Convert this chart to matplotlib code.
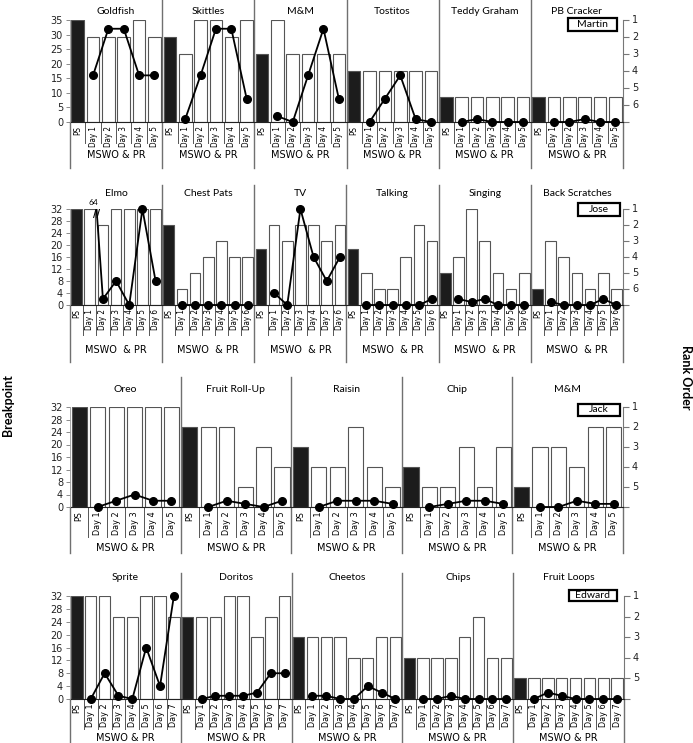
import matplotlib
matplotlib.use("Agg")
import matplotlib.pyplot as plt
import matplotlib.transforms as mtransforms
from matplotlib.patches import Rectangle
import numpy as np

W, H = 693, 743

# ---- data: rank (bars, PS first then days) and breakpoint (dots, days only)
martin_items = ["Goldfish", "Skittles", "M&M", "Tostitos", "Teddy Graham", "PB Cracker"]
martin_rank = [[1, 2, 2, 2, 1, 2],
               [2, 3, 1, 1, 2, 1],
               [3, 1, 3, 3, 3, 3],
               [4, 4, 4, 4, 4, 4],
               [5.5, 5.5, 5.5, 5.5, 5.5, 5.5],
               [5.5, 5.5, 5.5, 5.5, 5.5, 5.5]]
martin_bp = [[16, 32, 32, 16, 16],
             [1, 16, 32, 32, 8],
             [2, 0, 16, 32, 8],
             [0, 8, 16, 1, 0],
             [0, 1, 0, 0, 0],
             [0, 0, 1, 0, 0]]

jose_items = ["Elmo", "Chest Pats", "TV", "Talking", "Singing", "Back Scratches"]
jose_rank = [[1, 1, 2, 1, 1, 1, 1],
             [2, 6, 5, 4, 3, 4, 4],
             [3.5, 2, 3, 2, 2, 3, 2],
             [3.5, 5, 6, 6, 4, 2, 3],
             [5, 4, 1, 3, 5, 6, 5],
             [6, 3, 4, 5, 6, 5, 6]]
jose_bp = [[64, 2, 8, 0, 32, 8],
           [0, 0, 0, 0, 0, 0],
           [4, 0, 32, 16, 8, 16],
           [0, 0, 0, 0, 0, 2],
           [2, 1, 2, 0, 0, 0],
           [1, 0, 0, 0, 2, 0]]

jack_items = ["Oreo", "Fruit Roll-Up", "Raisin", "Chip", "M&M"]
jack_rank = [[1, 1, 1, 1, 1, 1],
             [2, 2, 2, 5, 3, 4],
             [3, 4, 4, 2, 4, 5],
             [4, 5, 5, 3, 5, 3],
             [5, 3, 3, 4, 2, 2]]
jack_bp = [[0, 2, 4, 2, 2],
           [0, 2, 1, 0, 2],
           [0, 2, 2, 2, 1],
           [0, 1, 2, 2, 1],
           [0, 0, 2, 1, 1]]

edward_items = ["Sprite", "Doritos", "Cheetos", "Chips", "Fruit Loops"]
edward_rank = [[1, 1, 1, 2, 2, 1, 1, 2],
               [2, 2, 2, 1, 1, 3, 2, 1],
               [3, 3, 3, 3, 4, 4, 3, 3],
               [4, 4, 4, 4, 3, 2, 4, 4],
               [5, 5, 5, 5, 5, 5, 5, 5]]
edward_bp = [[0, 8, 1, 0, 16, 4, 32],
             [0, 1, 1, 1, 2, 8, 8],
             [1, 1, 0, 0, 4, 2, 0],
             [0, 0, 1, 0, 0, 0, 0],
             [0, 2, 1, 0, 0, 0, 0]]

# layout of each row in pixels
rows = [
    dict(name="Martin", items=martin_items, rank=martin_rank, bp=martin_bp, top=35, step=5, rbot=7,
         x0=70, x1=623, ytop=20, ybot=122, sep_top=0, sep_bot=168, tick_bot=143, title_y=12,
         group_y=155, group="MSWO & PR", box=(568, 18, 49, 13), tfs=5.8),
    dict(name="Jose", items=jose_items, rank=jose_rank, bp=jose_bp, top=32, step=4, rbot=7,
         x0=70, x1=623, ytop=209, ybot=305, sep_top=185, sep_bot=362, tick_bot=335, title_y=193,
         group_y=350, group="MSWO  & PR", box=(578, 203, 42, 13), tfs=5.8),
    dict(name="Jack", items=jack_items, rank=jack_rank, bp=jack_bp, top=32, step=4, rbot=6,
         x0=70, x1=623, ytop=407, ybot=507, sep_top=377, sep_bot=553, tick_bot=537, title_y=389,
         group_y=548, group="MSWO & PR", box=(578, 404, 42, 12), tfs=6.5),
    dict(name="Edward", items=edward_items, rank=edward_rank, bp=edward_bp, top=32, step=4, rbot=6,
         x0=70, x1=624, ytop=596, ybot=699, sep_top=573, sep_bot=743, tick_bot=729, title_y=577,
         group_y=738, group="MSWO & PR", box=(569, 590, 48, 11), tfs=6.5),
]

TITLE = ["Lato", "DejaVu Sans"]
SEP = "#707070"

fig = plt.figure(figsize=(W / 100, H / 100), dpi=100)


def draw_row(r):
    items, ranks, bps = r["items"], r["rank"], r["bp"]
    per = len(ranks[0])
    n = per * len(items)
    hpx = r["ybot"] - r["ytop"]
    ax = fig.add_axes([r["x0"] / W, 1 - r["ybot"] / H, (r["x1"] - r["x0"]) / W, hpx / H])
    ax2 = ax.twinx()
    ax.set_xlim(-0.5, n - 0.5)
    ax.set_ylim(r["rbot"], 1)
    ax2.set_ylim(0, r["top"])

    def fy(ypix):
        return (r["ybot"] - ypix) / hpx

    # bars (rank order)
    xs, hs, cols = [], [], []
    for p, rk in enumerate(ranks):
        for k, v in enumerate(rk):
            xs.append(p * per + k)
            hs.append(v - r["rbot"])
            cols.append("#1c1c1c" if k == 0 else "white")
    ax.bar(xs, hs, bottom=r["rbot"], width=0.82, color=cols, edgecolor="#555555", linewidth=0.8, zorder=2)

    # breakpoint lines
    clip = Rectangle((0, -0.3), 1, 1.3, transform=ax2.transAxes)
    for p, bp in enumerate(bps):
        x = p * per + 1 + np.arange(len(bp))
        y = np.array(bp, dtype=float)
        ln, = ax2.plot(x, y, color="black", lw=1.3, zorder=3)
        ln.set_clip_path(clip)
        ok = y <= r["top"]
        ax2.plot(x[ok], y[ok], "o", color="black", ms=5.5, clip_on=False, zorder=4)
        for xi, yi, yprev in zip(x[~ok], y[~ok], np.roll(y, -1)[~ok]):
            xc = xi + (yi - r["top"]) / (yi - yprev)
            ax2.text(xc - 0.02, r["top"] - 1.6, "//", fontsize=7, ha="center", va="center",
                     fontweight="bold", zorder=5)
            ax2.text(xc - 0.25, r["top"], "%d" % yi, fontsize=6, ha="center", va="bottom",
                     transform=ax2.transData + mtransforms.ScaledTranslation(0, 3 / 100, fig.dpi_scale_trans),
                     family=TITLE)

    # axes styling
    for s in ["top", "left"]:
        ax.spines[s].set_visible(False)
    for s in ["top", "right", "bottom"]:
        ax2.spines[s].set_visible(False)
    ax.spines["right"].set_color("#777777")
    ax.spines["bottom"].set_color("#222222")
    ax2.spines["left"].set_color("#999999")
    ax2.spines["left"].set_linewidth(0.6)

    # right (rank) axis: ticks plus labels placed next to them
    ax.yaxis.tick_right()
    rt = list(range(1, r["rbot"] + 1))
    ax.set_yticks(rt)
    ax.set_yticklabels([])
    ax.tick_params(axis="y", direction="out", length=4, width=0.8, color="#777777")
    rtr = mtransforms.blended_transform_factory(ax.transAxes, ax.transData)
    for t in rt[:-1]:
        ax.text(1.0, t, str(t), transform=rtr + mtransforms.ScaledTranslation(12 / 100, 0, fig.dpi_scale_trans),
                ha="center", va="center", fontsize=7, color="#222222", clip_on=False)

    ax2.yaxis.tick_left()
    ax2.set_yticks(np.arange(0, r["top"] + 1, r["step"]))
    ax2.tick_params(axis="y", direction="out", length=3, width=0.6, labelsize=7, pad=2,
                    color="#777777", labelcolor="#222222")

    labels = []
    for p in range(len(items)):
        labels += ["PS"] + ["Day %d" % d for d in range(1, per)]
    ax.set_xticks(range(n))
    ax.set_xticklabels(labels, rotation=90, fontsize=r["tfs"], family="DejaVu Sans",
                       fontstretch="condensed")
    ax.tick_params(axis="x", length=0, pad=3)

    tr = mtransforms.blended_transform_factory(ax.transData, ax.transAxes)
    # small separators between category labels
    for i in range(n - 1):
        if (i + 1) % per == 0:
            continue
        ax.plot([i + 0.5, i + 0.5], [0, fy(r["tick_bot"])], transform=tr, color="#555555",
                lw=0.7, clip_on=False)
    # panel separators
    for p in range(1, len(items)):
        xb = p * per - 0.5
        ax.plot([xb, xb], [fy(r["sep_top"]), fy(r["sep_bot"])], transform=tr, color=SEP,
                lw=1.0, clip_on=False, zorder=1)
    for xb in [-0.5, n - 0.5]:
        ax.plot([xb, xb], [0, fy(r["sep_bot"])], transform=tr, color=SEP, lw=1.0, clip_on=False)

    # titles and group labels
    for p, name in enumerate(items):
        xc = p * per + (per - 1) / 2
        ax.text(xc, fy(r["title_y"]), name, transform=tr, ha="center", va="center",
                fontsize=7.5, family=TITLE)
        ax.text(xc, fy(r["group_y"]), r["group"], transform=tr, ha="center", va="center",
                fontsize=7, family=["DejaVu Sans"])

    # participant box
    bx, by, bw, bh = r["box"]
    fig.add_artist(Rectangle((bx / W, 1 - (by + bh) / H), bw / W, bh / H, transform=fig.transFigure,
                             facecolor="white", edgecolor="black", lw=1.6))
    fig.text((bx + bw / 2) / W, 1 - (by + bh / 2) / H, r["name"], ha="center", va="center",
             fontsize=7.5, family=TITLE)


for r in rows:
    draw_row(r)

fig.text(8 / W, 1 - 405 / H, "Breakpoint", rotation=90, ha="center", va="center",
         fontsize=9, fontweight="bold", family=TITLE)
fig.text(686 / W, 1 - 377 / H, "Rank Order", rotation=-90, ha="center", va="center",
         fontsize=9, fontweight="bold", family=TITLE)

fig.savefig("out.png", dpi=100)
